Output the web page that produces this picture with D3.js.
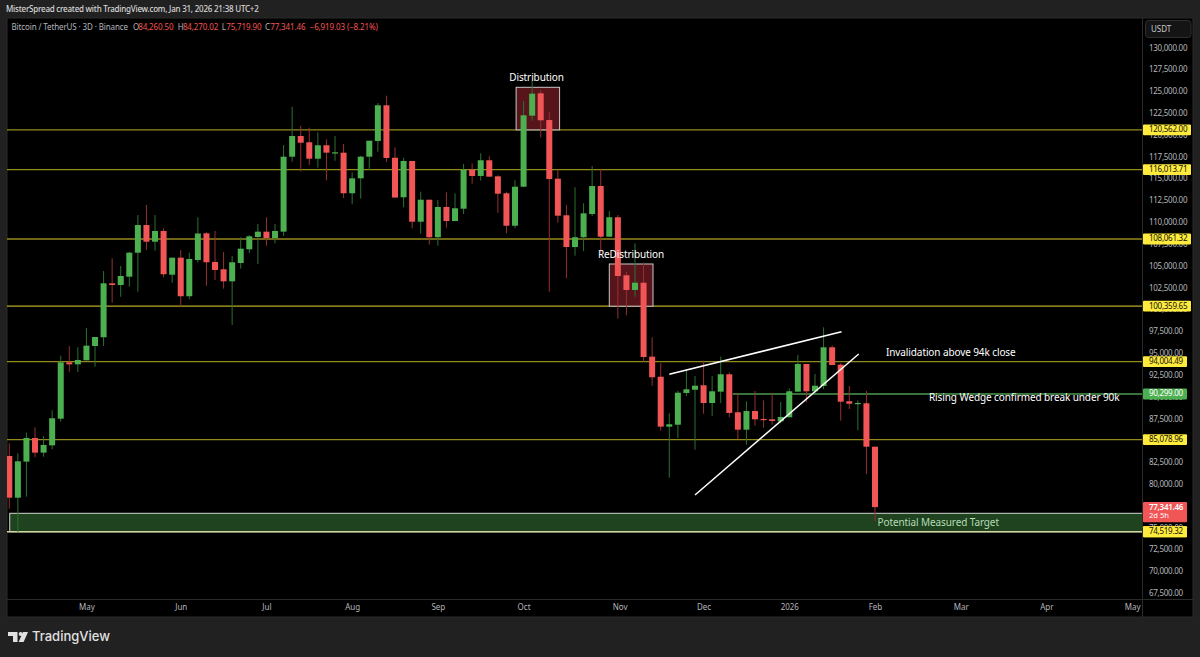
<!DOCTYPE html>
<html><head><meta charset="utf-8">
<style>
html,body{margin:0;padding:0;background:#212121;overflow:hidden}
svg{display:block}
text{font-family:"Noto Sans","Open Sans",sans-serif}
</style>
<script src="https://cdn.jsdelivr.net/npm/d3@7/dist/d3.min.js"></script>
</head><body>
<svg id="c" width="1200" height="657"></svg>
<script>
const opens=[83200,78420,82550,85260,83580,84420,87470,93930,93700,94160,95800,96800,102980,102790,103740,106490,109660,107750,108980,103970,105920,101500,105650,108710,105430,104590,103210,105310,106880,108290,108900,108170,108900,117490,119860,119140,117260,118800,117910,117950,113300,115010,117490,119290,123380,117370,112840,117000,110040,112560,108260,111730,110120,111530,116000,115280,117080,115240,113300,109580,114050,122190,124750,121690,114970,110780,107140,108260,110920,114130,108320,110550,103900,102220,103050,94580,92280,86560,86780,90420,90790,91300,89270,90570,92560,88210,86210,88350,87440,87400,87170,87630,90570,93740,90610,91220,95650,93660,89470,89190,89240,84260.50];
const highs=[84650,83510,85870,86490,85490,88430,94690,95770,95650,97860,96830,104390,105850,104970,106600,110810,111960,110810,109290,105920,106800,106490,110550,108830,108980,106570,106110,108260,108520,109780,110550,109780,118830,123220,121040,120810,120280,119480,119860,118940,115700,117600,119320,123640,124480,118570,117370,117000,113480,112560,112530,113410,113300,116650,116730,117880,117540,115360,113480,114790,123840,126200,125130,122580,115970,111960,113980,112150,116420,116050,111270,110810,104280,107570,105350,96800,93820,88090,90680,92970,92360,94120,92360,94580,92790,90380,89470,90650,89580,90380,89390,90950,94770,93740,92590,97940,95880,93820,91220,89580,90650,84270.02];
const lows=[77160,74490,78540,83050,83120,83970,87130,92860,92820,94160,93430,95800,100760,101450,102600,102020,106800,106720,103670,103050,100350,101150,105350,102710,103360,102370,98210,104660,106420,105200,107290,107570,108400,116920,115820,116540,116230,114790,117030,112760,112040,112680,115970,118060,116880,112760,111690,109290,108670,107410,107290,109350,110120,110920,114400,114740,115200,111070,108710,109290,114020,121610,119710,102020,109930,103560,106150,106690,110700,106420,108320,98930,99320,101450,94000,91250,86100,80710,85260,90070,83920,88040,87780,89270,87630,85110,84490,86670,86440,86780,86940,87630,90570,89350,90300,90840,93620,87240,88580,86140,81100,75719.90];
const closes=[78420,82590,85260,83580,84460,87520,93930,93700,94200,95840,96830,102980,102790,103820,106490,109660,107750,108980,104020,105920,101500,105770,108690,105390,104510,103210,105390,106950,108370,108900,108170,108980,117490,119860,119090,117260,118800,117950,117990,113300,115010,117490,119320,123380,117340,112810,117000,110040,112560,108260,111730,110120,111580,116000,115280,117080,115200,113250,109580,114050,122230,124710,121660,114930,110730,107140,108260,111000,114130,108320,110550,103820,102220,103050,94540,92220,86560,86830,90450,90840,91250,89270,90610,92560,88130,86210,88350,87400,87320,87210,87670,90610,93740,90610,91250,95650,93620,89420,89190,89270,84260,77341.46];

const priceTicks=[130000,127500,125000,122500,120000,117500,115000,112500,110000,107500,105000,102500,100000,97500,95000,92500,90000,87500,85000,82500,80000,77500,75000,72500,70000,67500];
const monthLabels=["May","Jun","Jul","Aug","Sep","Oct","Nov","Dec","2026","Feb","Mar","Apr","May"];
const monthBars=[9,20,30,40,50,60,71.2,81,91,101,111,121,131];
const levels=[120562.00,116013.71,108061.32,100359.65,94004.49,85078.96,74519.32];
const levelLabels=["120,562.00","116,013.71","108,061.32","100,359.65","94,004.49","85,078.96","74,519.32"];
const wedgeUpper=[[77,92558],[97.1,97440]];
const wedgeLower=[[80,78730],[99.1,94884]];
const boxes=[{a:59.13,b:64.2,top:125440,bot:120562},{a:70,b:75.1,top:105196,bot:100359.65}];

const L=7,R=1193,T=18,B=617,AX=1142.5,AY=599.5;
const svg=d3.select("#c");
const x=d3.scaleLinear().domain([0,101]).range([9.3,875]);
const y=d3.scaleLinear().domain([67500,130000]).range([593,47.5]);
const GREEN="#4caf50",RED="#f25555",GW="#2c7032",RW="#96302f",YEL="#ffeb3b";
const LS="-0.27px";

svg.append("rect").attr("width",1200).attr("height",657).attr("fill","#212121");
svg.append("rect").attr("x",L).attr("y",T).attr("width",R-L).attr("height",B-T).attr("fill","#000").attr("stroke","#2b2b2b");
svg.append("defs").append("clipPath").attr("id","pl").append("rect").attr("x",L).attr("y",T).attr("width",AX-L).attr("height",AY-T);
const g=svg.append("g").attr("clip-path","url(#pl)");

// Measured target zone
const zoneTop=76631;
g.append("rect").attr("x",x(0.05)).attr("y",y(zoneTop)).attr("width",AX-x(0.05)+3).attr("height",y(levels[6])-y(zoneTop))
 .attr("fill","#1e431e").attr("stroke","#d0d6d0").attr("stroke-width",1);

// Level lines
g.selectAll("line.lv").data(levels).join("line").attr("class","lv")
 .attr("x1",L).attr("x2",AX).attr("y1",d=>y(d)).attr("y2",d=>y(d))
 .attr("stroke",(d,i)=>i==6?"#d0d6a0":i==3?"#b5a826":"#948a1c").attr("stroke-width",1.3);
g.append("line").attr("x1",x(84.4)).attr("x2",AX).attr("y1",y(90299)).attr("y2",y(90299)).attr("stroke","#4a9a4e").attr("stroke-width",1.3);

// Distribution boxes
g.selectAll("rect.bx").data(boxes).join("rect").attr("class","bx")
 .attr("x",d=>x(d.a)).attr("width",d=>x(d.b)-x(d.a)).attr("y",d=>y(d.top)).attr("height",d=>y(d.bot)-y(d.top))
 .attr("fill","#57151b").attr("stroke","#c8c8c8").attr("stroke-width",1);

// Candles
const idx=d3.range(opens.length);
g.selectAll("line.w").data(idx).join("line").attr("class","w")
 .attr("x1",i=>x(i)).attr("x2",i=>x(i)).attr("y1",i=>y(highs[i])).attr("y2",i=>y(lows[i]))
 .attr("stroke",i=>closes[i]>=opens[i]?GW:RW).attr("stroke-width",1);
g.selectAll("rect.b").data(idx).join("rect").attr("class","b")
 .attr("x",i=>x(i)-3).attr("width",6)
 .attr("y",i=>y(Math.max(opens[i],closes[i])))
 .attr("height",i=>Math.max(1.2,Math.abs(y(opens[i])-y(closes[i]))))
 .attr("fill",i=>closes[i]>=opens[i]?GREEN:RED);

// Wedge lines
for(const t of [wedgeUpper,wedgeLower]){
 g.append("line").attr("x1",x(t[0][0])).attr("y1",y(t[0][1])).attr("x2",x(t[1][0])).attr("y2",y(t[1][1]))
  .attr("stroke","#fff").attr("stroke-width",1.5);
}

// Annotations
const ann=(t,xp,yp,anchor,col)=>g.append("text").attr("x",xp).attr("y",yp).attr("text-anchor",anchor).attr("dominant-baseline","middle")
 .attr("fill",col).attr("font-size",10).style("letter-spacing","-0.1px").text(t);
ann("Distribution",536.5,78.8,"middle","#fff");
ann("ReDistribution",631,255.8,"middle","#fff");
ann("Invalidation above 94k close",886,353,"start","#fff");
ann("Rising Wedge confirmed break under 90k",929,398.6,"start","#fff");
ann("Potential Measured Target",877.5,523,"start","#b5dcb5");

// Axes
const ax=svg.append("g").attr("transform",`translate(${AX},0)`)
 .call(d3.axisRight(y).tickValues(priceTicks).tickSize(0).tickPadding(6.5).tickFormat(d3.format(",.2f")));
ax.select(".domain").remove();
ax.selectAll("text").attr("fill","#b4b6bc").attr("font-size",8).style("font-family",'"Noto Sans",sans-serif').style("letter-spacing",LS);
const bx=svg.append("g").attr("transform",`translate(0,${AY})`)
 .call(d3.axisBottom(x).tickValues(monthBars).tickSize(0).tickPadding(5).tickFormat((d,i)=>monthLabels[i]));
bx.select(".domain").remove();
bx.selectAll("text").attr("fill","#b4b6bc").attr("font-size",8).style("font-family",'"Noto Sans",sans-serif');
svg.append("line").attr("x1",L).attr("x2",R).attr("y1",AY).attr("y2",AY).attr("stroke","#2b2b2b");
svg.append("line").attr("x1",AX).attr("x2",AX).attr("y1",T).attr("y2",B).attr("stroke","#2b2b2b");

// Price labels
const tag=(val,txt,bg,fg)=>{
 const yy=y(val);
 svg.append("rect").attr("x",AX+.5).attr("y",yy-5.4).attr("width",txt.length>9?48:44).attr("height",10.8).attr("rx",1).attr("fill",bg);
 svg.append("text").attr("x",AX+6.5).attr("y",yy+.3).attr("dominant-baseline","middle").attr("fill",fg).attr("font-size",8).style("letter-spacing",LS).text(txt);
};
levels.forEach((v,i)=>tag(v,levelLabels[i],YEL,"#111"));
tag(90299,"90,299.00",GREEN,"#fff");
const cy=y(closes[101]);
svg.append("rect").attr("x",AX+.5).attr("y",cy-5.2).attr("width",44).attr("height",20.4).attr("rx",1).attr("fill","#f05656");
svg.append("text").attr("x",AX+6.5).attr("y",cy+.5).attr("dominant-baseline","middle").attr("fill","#fff").attr("font-size",8).attr("font-weight",600).style("letter-spacing",LS).text("77,341.46");
svg.append("text").attr("x",AX+6.5).attr("y",cy+9.3).attr("dominant-baseline","middle").attr("fill","#fff").attr("font-size",7.6).text("2d 5h");
// redraw lowest level on top of the current-price tag
tag(levels[6],levelLabels[6],YEL,"#111");

// USDT button
svg.append("rect").attr("x",1145.5).attr("y",20.5).attr("width",45.5).attr("height",17).attr("rx",3).attr("fill","#141414").attr("stroke","#2e2e2e");
svg.append("text").attr("x",1151).attr("y",29.5).attr("dominant-baseline","middle").attr("fill","#c8c8c8").attr("font-size",8).text("USDT");

// Header
svg.append("text").attr("x",6).attr("y",10).attr("dominant-baseline","middle").attr("fill","#d8d8d8").attr("font-size",8).attr("font-weight",500).style("letter-spacing","-0.22px")
 .text("MisterSpread created with TradingView.com, Jan 31, 2026 21:38 UTC+2");
const lg=svg.append("g").attr("font-size",8).style("letter-spacing","-0.12px");
const lgText=(t,xp,col)=>lg.append("text").attr("x",xp).attr("y",27.5).attr("dominant-baseline","middle").attr("fill",col).text(t);
lgText("Bitcoin / TetherUS · 3D · Binance",11.5,"#b2b5be");
const ohlcKeys=["O","H","L","C"],ohlcVals=["84,260.50","84,270.02","75,719.90","77,341.46"],ohlcX=[133,177.7,221.7,265];
ohlcKeys.forEach((k,i)=>{
 lgText(k,ohlcX[i],"#b2b5be");
 lgText(ohlcVals[i],ohlcX[i]+(k=="L"?4.5:5.2),"#f25555");
});
lgText("−6,919.03 (−8.21%)",309.7,"#f25555");

// Logo
const lo=svg.append("g").attr("fill","#e0e0e0");
lo.append("path").attr("d","M8 632H17.5V642H13V636H8Z");
lo.append("circle").attr("cx",20.7).attr("cy",634).attr("r",2);
lo.append("path").attr("d","M23 632H28L23.6 642H18.6Z");
svg.append("text").attr("x",32).attr("y",637.5).attr("dominant-baseline","middle").attr("fill","#e0e0e0").attr("font-size",13).attr("font-weight",500).style("font-family","Inter,sans-serif").text("TradingView");
</script>
</body></html>
